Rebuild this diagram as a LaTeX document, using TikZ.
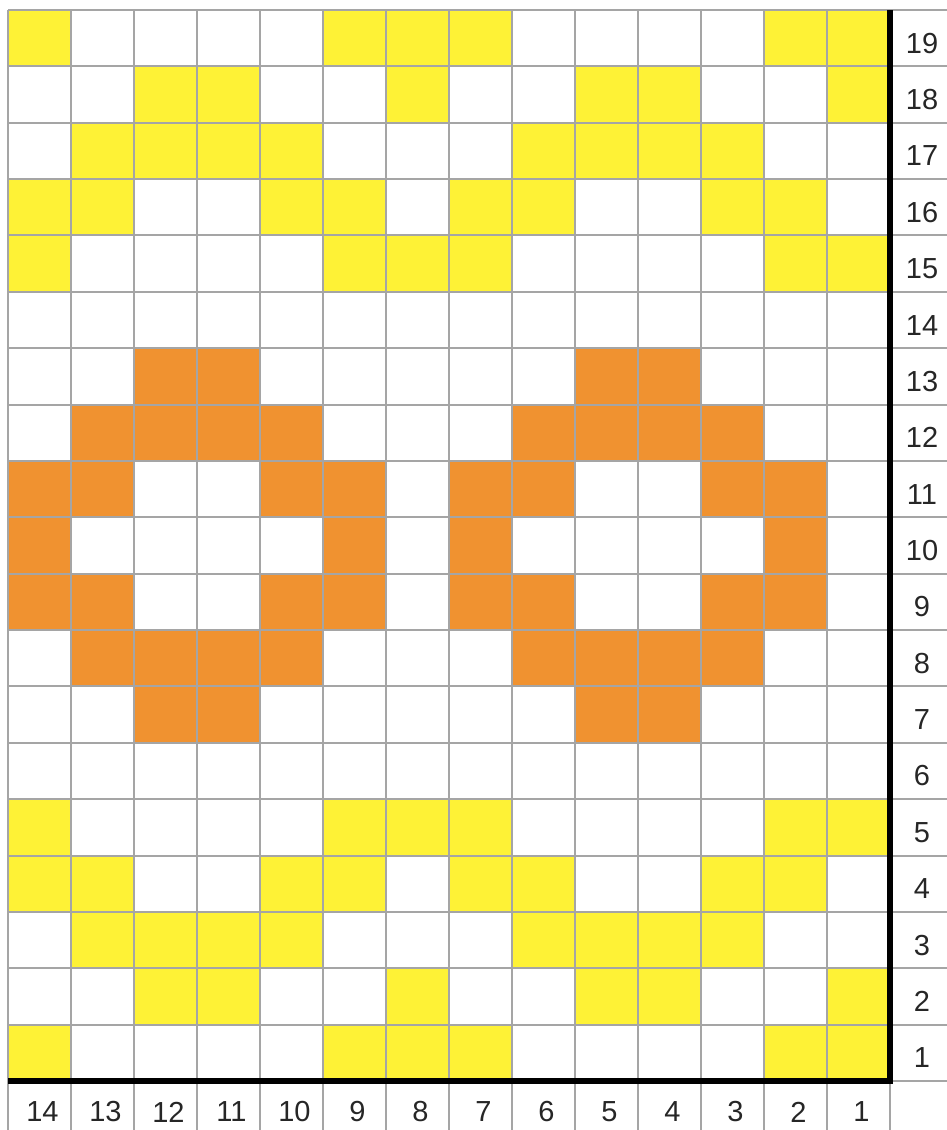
\documentclass[tikz,border=0pt]{standalone}
\usepackage{fontspec}
\setmainfont{Liberation Sans}
\definecolor{yel}{RGB}{254,242,54}
\definecolor{org}{RGB}{240,146,48}
\definecolor{gridgray}{RGB}{165,165,165}
\begin{document}
\begin{tikzpicture}[x=1pt,y=-1pt,
  ycell/.style={fill=yel},
  ocell/.style={fill=org},
  gridline/.style={draw=gridgray,line width=2pt},
  thickline/.style={draw=black,line width=6pt},
  lab/.style={font=\fontsize{29}{34}\selectfont,text=black!85,inner sep=0pt,anchor=center}]
\useasboundingbox (0,0) rectangle (947,1130);
\clip (0,0) rectangle (947,1130);
\def\W{63}
\def\H{56.37}
% yellow cells
\foreach \r/\cols in {0/{0,5,6,7,12,13},1/{2,3,6,9,10,13},2/{1,2,3,4,8,9,10,11},3/{0,1,4,5,7,8,11,12},4/{0,5,6,7,12,13},
  14/{0,5,6,7,12,13},15/{0,1,4,5,7,8,11,12},16/{1,2,3,4,8,9,10,11},17/{2,3,6,9,10,13},18/{0,5,6,7,12,13}}
  \foreach \c in \cols
    \fill[ycell] ({8+\c*\W},{10+\r*\H}) rectangle ++(\W,\H);
% orange cells
\foreach \r/\cols in {6/{2,3,9,10},7/{1,2,3,4,8,9,10,11},8/{0,1,4,5,7,8,11,12},9/{0,5,7,12},
  10/{0,1,4,5,7,8,11,12},11/{1,2,3,4,8,9,10,11},12/{2,3,9,10}}
  \foreach \c in \cols
    \fill[ocell] ({8+\c*\W},{10+\r*\H}) rectangle ++(\W,\H);
% grid lines
\foreach \k in {0,...,14}
  \draw[gridline] ({8+\k*\W},10) -- ({8+\k*\W},1135);
\foreach \k in {0,...,19}
  \draw[gridline] (8,{10+\k*\H}) -- (950,{10+\k*\H});
% thick axes
\coordinate (tr) at (890,10);
\coordinate (br) at (890,{10+19*\H});
\coordinate (bl) at (8,{10+19*\H});
\draw[thickline] (tr) -- ([yshift=-3pt]br) ;
\draw[thickline] (bl) -- ([xshift=3pt]br);
% row labels
\foreach \r in {0,...,18}{
  \pgfmathtruncatemacro{\n}{19-\r}
  \node[lab] (row\n) at (922,{10+\r*\H+\H/2+5}) {\n};
}
% column labels
\foreach \c in {0,...,13}{
  \pgfmathtruncatemacro{\n}{14-\c}
  \node[lab] (col\n) at ({8+\c*\W+\W/2+3},1112) {\n};
}
\end{tikzpicture}
\end{document}
